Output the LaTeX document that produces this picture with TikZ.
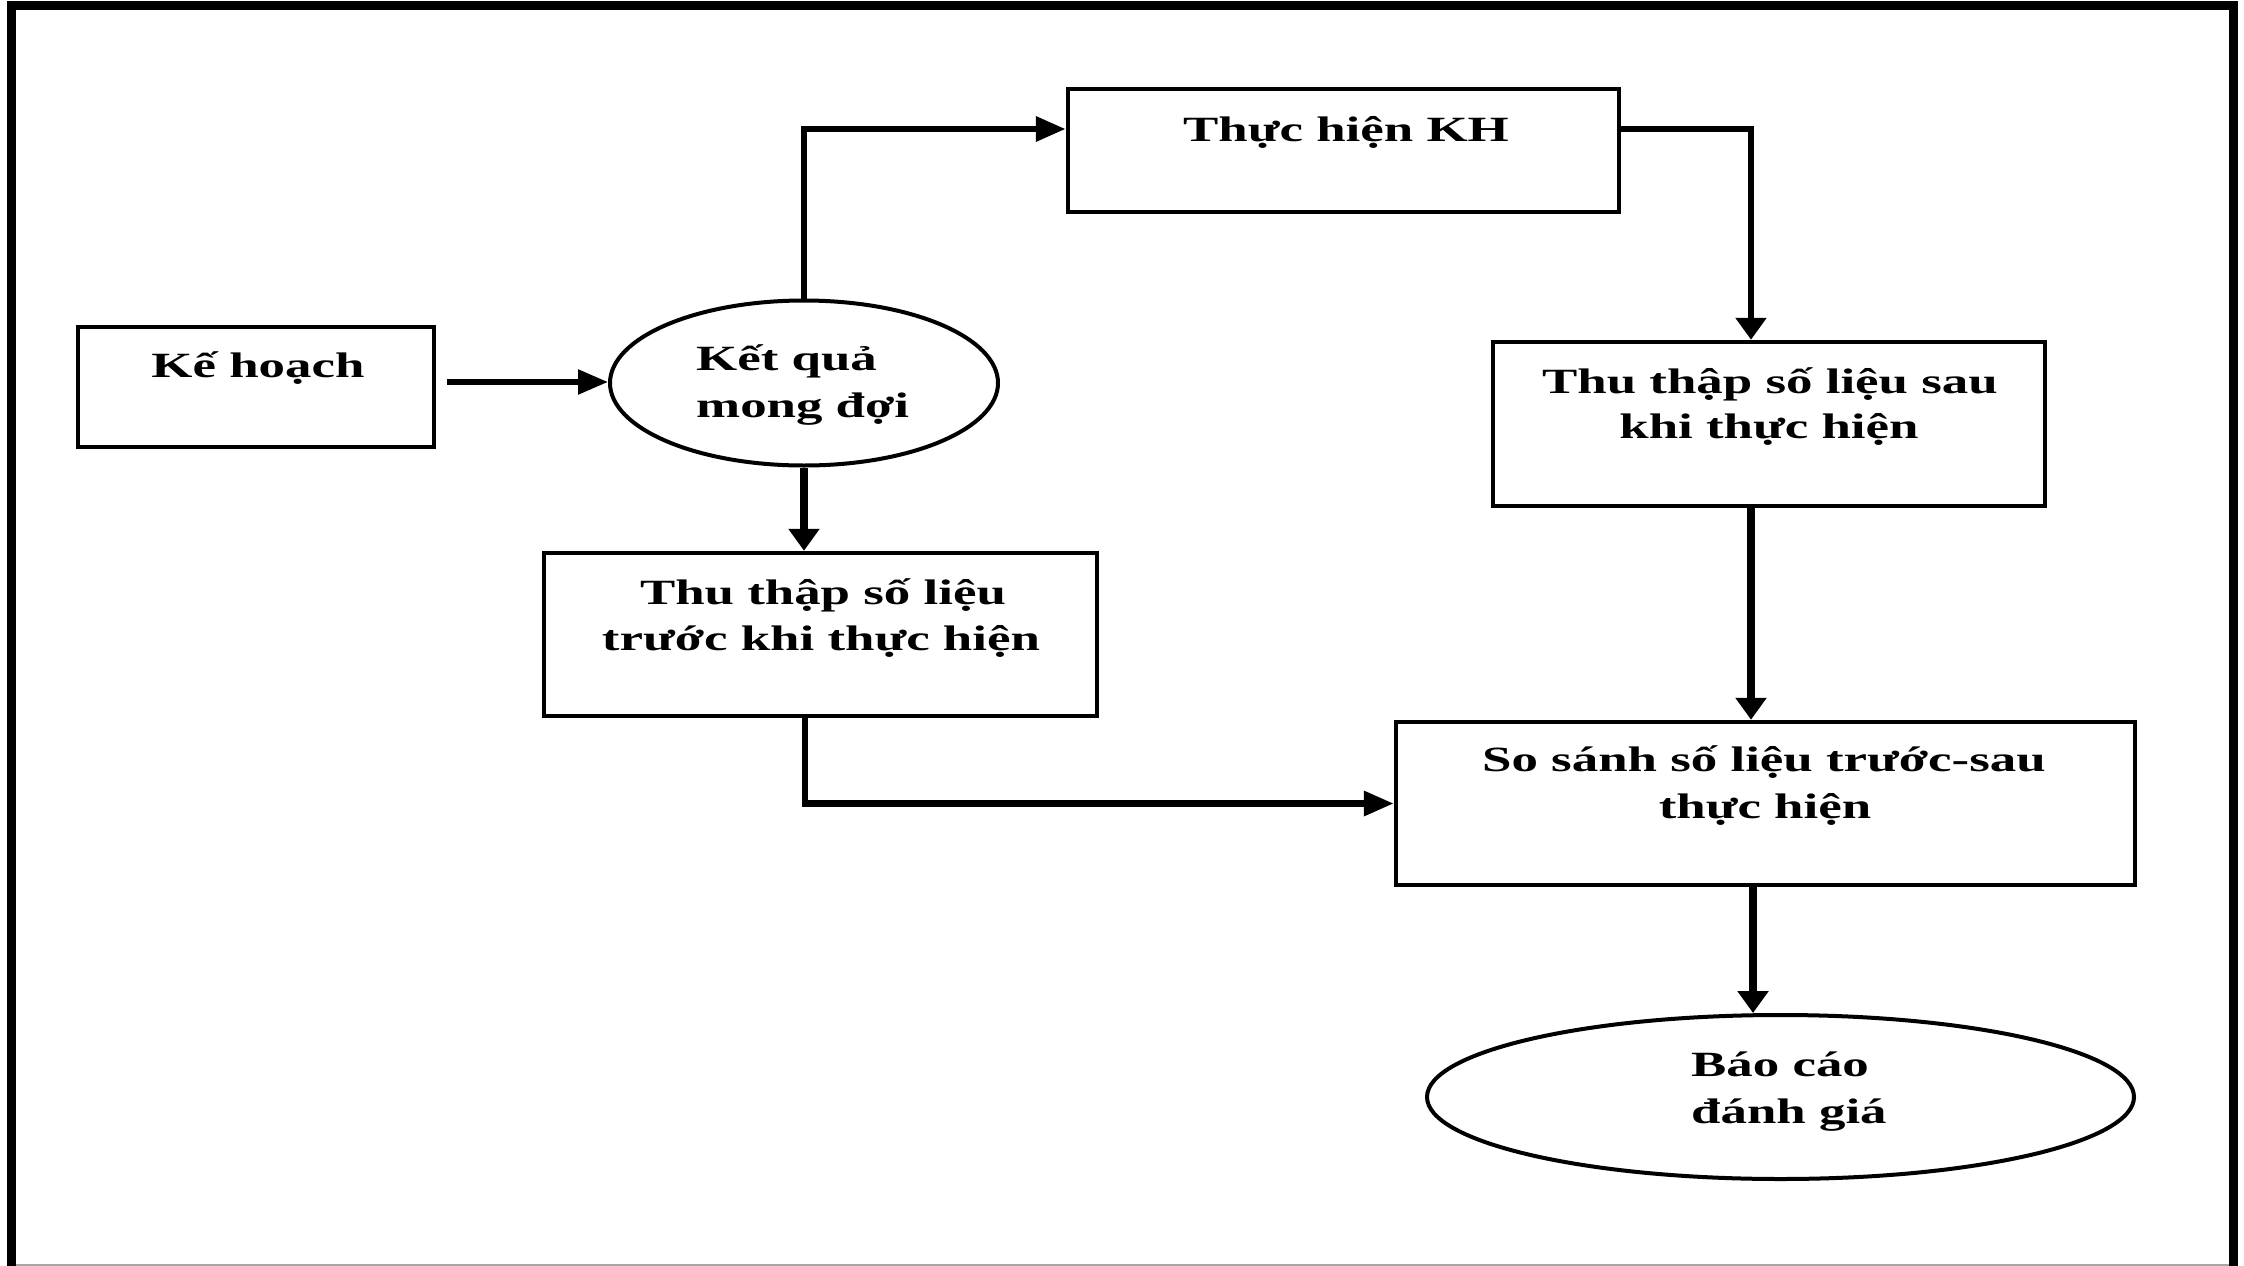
\documentclass[tikz,border=0pt]{standalone}
\usepackage{fontspec}
\newfontfamily\lblfont[FakeStretch=1.49]{Liberation Serif}
\usetikzlibrary{arrows.meta,shapes.geometric,calc}

\begin{document}
\begin{tikzpicture}[x=1pt,y=-1pt,
  box/.style={draw,line width=4.5pt,rectangle,inner sep=0pt},
  oval/.style={draw,line width=4pt,ellipse,inner sep=0pt},
  txt/.style={font=\lblfont\bfseries\fontsize{35.5}{46}\selectfont,inner sep=0pt},
  link/.style={line width=6.5pt},
  tipH/.style={-{Triangle[length=30pt,width=24pt]}},
  tipV/.style={-{Triangle[length=22pt,width=30pt]}},
]
% page and outer frame
\useasboundingbox (0,0) rectangle (2244,1266);
\fill[white] (0,0) rectangle (2244,1266);
\draw[line width=8.5pt] (11.5,1270) -- (11.5,5.5) -- (2233.5,5.5) -- (2233.5,1270);
\draw[black!35,line width=2pt] (16,1265) -- (2229,1265);

% shapes
\node[box,minimum width=356pt,minimum height=120pt] (kh) at (256,387) {};
\node[oval,minimum width=388pt,minimum height=165pt] (kq) at (804,383) {};
\node[box,minimum width=551pt,minimum height=123pt] (th) at (1343.5,150.5) {};
\node[box,minimum width=552pt,minimum height=164pt] (sau) at (1769,424) {};
\node[box,minimum width=553pt,minimum height=163pt] (truoc) at (820.5,634.5) {};
\node[box,minimum width=739pt,minimum height=163pt] (ss) at (1765.5,803.5) {};
\node[oval,minimum width=707pt,minimum height=164pt] (bc) at (1780.5,1097) {};

% labels
\node[txt,anchor=base] (khA) at (258,377) {Kế hoạch};
\node[txt,anchor=base west] (kqA) at (696,370) {Kết quả};
\node[txt,anchor=base west] (kqB) at (696,417) {mong đợi};
\node[txt,anchor=base] (thA) at (1346,141) {Thực hiện KH};
\node[txt,anchor=base] (sauA) at (1770,393) {Thu thập số liệu sau};
\node[txt,anchor=base] (sauB) at (1769,438) {khi thực hiện};
\node[txt,anchor=base] (truocA) at (823,604) {Thu thập số liệu};
\node[txt,anchor=base] (truocB) at (821,650) {trước khi thực hiện};
\node[txt,anchor=base] (ssA) at (1764,771.5) {So sánh số liệu trước-sau};
\node[txt,anchor=base] (ssB) at (1765,818) {thực hiện};
\node[txt,anchor=base west] (bcA) at (1691,1076) {Báo cáo};
\node[txt,anchor=base west] (bcB) at (1691,1123) {đánh giá};

% connectors
\coordinate (khOut) at ($(kh.east)+(11,-5)$);
\draw[link,line width=5.5pt,tipH] (khOut) -- (khOut -| kq.west);
\draw[link,line width=8pt,tipV] (kq.south) -- (kq.south |- truoc.north);
\draw[link,tipH] (kq.north) |- ([yshift=21.5pt]th.west);
\draw[link,tipV] ([yshift=21.5pt]th.east) -| ([xshift=-18pt]sau.north);
\coordinate (sauOut) at ([xshift=-18pt]sau.south);
\draw[link,line width=8pt,tipV] (sauOut) -- (sauOut |- ss.north);
\draw[link,tipH] ([xshift=-15.5pt]truoc.south) |- (ss.west);
\coordinate (ssOut) at ([xshift=-12.5pt]ss.south);
\draw[link,line width=8pt,tipV] (ssOut) -- (ssOut |- bc.north);
\end{tikzpicture}
\end{document}
